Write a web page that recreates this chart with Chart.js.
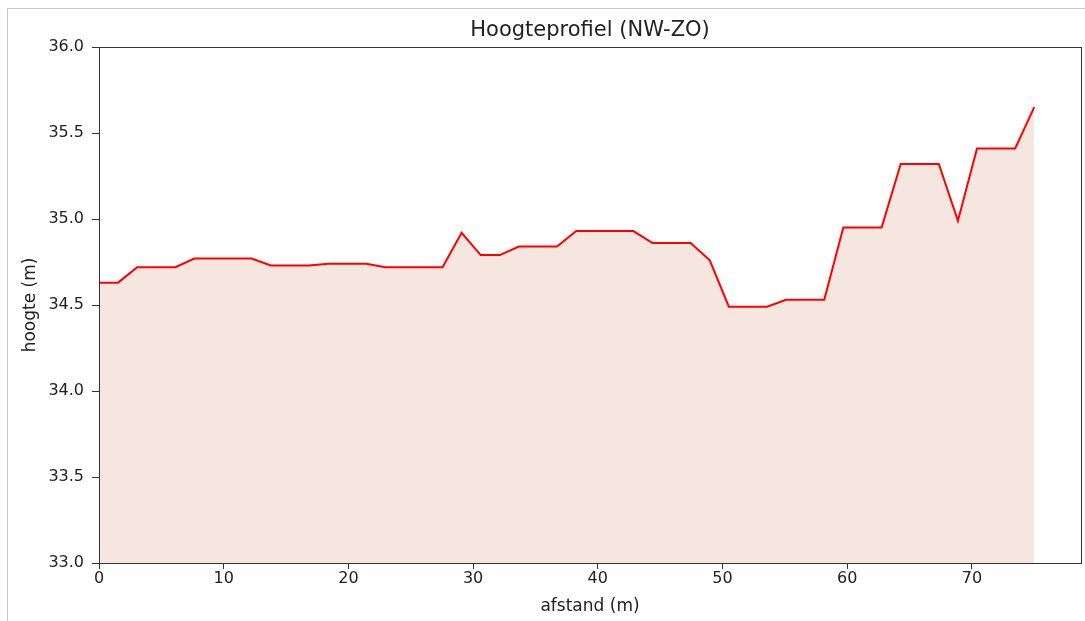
<!DOCTYPE html>
<html>
<head>
<meta charset="utf-8">
<script src="https://cdn.jsdelivr.net/npm/chart.js@4/dist/chart.umd.min.js"></script>
<style>
  html, body { margin: 0; padding: 0; background: #fff; }
  #wrap { position: relative; width: 1085px; height: 621px; }
  #frame {
    position: absolute; left: 7px; top: 8px; right: 0; bottom: 0;
    border-left: 1px solid #c8c8c8; border-top: 1px solid #c8c8c8;
    pointer-events: none;
  }
  canvas { position: absolute; left: 0; top: 0; }
</style>
</head>
<body>
<div id="wrap">
  <canvas id="profile" width="1085" height="621"></canvas>
  <div id="frame"></div>
</div>
<script>
// ===== Data =====
const afstand = [
  0.00, 1.53, 3.06, 4.59, 6.12, 7.65, 9.18, 10.71, 12.24, 13.78,
  15.31, 16.84, 18.37, 19.90, 21.43, 22.96, 24.49, 26.02, 27.55, 29.08,
  30.61, 32.14, 33.67, 35.20, 36.73, 38.27, 39.80, 41.33, 42.86, 44.39,
  45.92, 47.45, 48.98, 50.51, 52.04, 53.57, 55.10, 56.63, 58.16, 59.69,
  61.22, 62.76, 64.29, 65.82, 67.35, 68.88, 70.41, 71.94, 73.47, 75.00
];
const hoogte = [
  34.63, 34.63, 34.72, 34.72, 34.72, 34.77, 34.77, 34.77, 34.77, 34.73,
  34.73, 34.73, 34.74, 34.74, 34.74, 34.72, 34.72, 34.72, 34.72, 34.92,
  34.79, 34.79, 34.84, 34.84, 34.84, 34.93, 34.93, 34.93, 34.93, 34.86,
  34.86, 34.86, 34.76, 34.49, 34.49, 34.49, 34.53, 34.53, 34.53, 34.95,
  34.95, 34.95, 35.32, 35.32, 35.32, 34.99, 35.41, 35.41, 35.41, 35.65
];
const xTicks = [0, 10, 20, 30, 40, 50, 60, 70];
const yTicks = [33.0, 33.5, 34.0, 34.5, 35.0, 35.5, 36.0];

const FONT = "'DejaVu Sans', sans-serif";
const TEXT = "#222";

const points = afstand.map((x, i) => ({ x, y: hoogte[i] }));

new Chart(document.getElementById("profile"), {
  type: "line",
  data: {
    datasets: [{
      data: points,
      borderColor: "#ff0000",
      backgroundColor: "#f6e6e0",
      borderWidth: 2,
      fill: "start",
      tension: 0,
      pointRadius: 0,
    }],
  },
  options: {
    responsive: false,
    animation: false,
    events: [],
    layout: { padding: { left: 0, top: 0, right: 4, bottom: 0 } },
    plugins: {
      legend: { display: false },
      tooltip: { enabled: false },
      title: {
        display: true,
        fullSize: false,
        text: "Hoogteprofiel (NW-ZO)",
        color: TEXT,
        font: { family: FONT, size: 21, weight: "normal", lineHeight: 1.2 },
        padding: { top: 18, bottom: 3.8 },
      },
    },
    scales: {
      x: {
        type: "linear",
        min: 0,
        max: 78.75,
        afterBuildTicks: (s) => { s.ticks = xTicks.map((v) => ({ value: v })); },
        afterFit: (s) => { s.height = 58; },
        grid: { drawOnChartArea: false, tickLength: 6, color: "#333", tickColor: "#333" },
        border: { color: "#333", width: 1 },
        ticks: { color: TEXT, padding: 0, maxRotation: 0, font: { family: FONT, size: 16 } },
        title: {
          display: true, text: "afstand (m)", color: TEXT,
          font: { family: FONT, size: 17, lineHeight: 1.2 },
          padding: { top: 0, bottom: 4 },
        },
      },
      y: {
        min: 33,
        max: 36,
        afterBuildTicks: (s) => { s.ticks = yTicks.map((v) => ({ value: v })); },
        afterFit: (s) => { s.width = 99; },
        grid: { drawOnChartArea: false, tickLength: 7, color: "#333", tickColor: "#333" },
        border: { color: "#333", width: 1 },
        ticks: {
          color: TEXT, padding: 8, font: { family: FONT, size: 16 },
          callback: (v) => v.toFixed(1),
        },
        title: {
          display: true, text: "hoogte (m)", color: TEXT,
          font: { family: FONT, size: 17, lineHeight: 1.2 },
          padding: { top: 20, bottom: 0 },
        },
      },
    },
  },
  plugins: [{
    // matplotlib-style closed frame around the plot area
    id: "frameBox",
    afterDraw(chart) {
      const { ctx, chartArea: a } = chart;
      ctx.save();
      ctx.strokeStyle = "#333";
      ctx.lineWidth = 1;
      ctx.strokeRect(Math.round(a.left) + 0.5, Math.round(a.top) + 0.5,
        Math.round(a.right - a.left), Math.round(a.bottom - a.top));
      ctx.restore();
    },
  }],
});
</script>
</body>
</html>
